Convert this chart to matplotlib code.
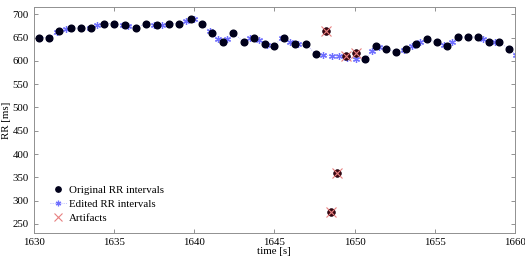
import matplotlib
matplotlib.use("Agg")
import matplotlib.pyplot as plt

# original RR intervals (beat time [s], RR [ms])
orig_t = [1630.34, 1630.97, 1631.60, 1632.30, 1632.95, 1633.60, 1634.36, 1635.03,
          1635.70, 1636.39, 1637.03, 1637.72, 1638.41, 1639.07, 1639.80, 1640.47,
          1641.14, 1641.78, 1642.45, 1643.10, 1643.73, 1644.40, 1644.99, 1645.61,
          1646.28, 1646.95, 1647.57, 1648.22, 1648.55, 1648.93, 1649.47, 1650.07,
          1650.68, 1651.32, 1651.97, 1652.57, 1653.18, 1653.84, 1654.51, 1655.11,
          1655.74, 1656.45, 1657.07, 1657.70, 1658.36, 1658.99, 1659.61]
orig_rr = [650, 650, 664, 670, 670, 670, 680, 680,
           676, 671, 680, 676, 680, 680, 690, 680,
           660, 640, 660, 640, 650, 636, 631, 650,
           636, 636, 615, 663, 276, 360, 611, 617,
           605, 631, 626, 619, 626, 636, 646, 640,
           631, 651, 651, 651, 640, 640, 626]

# edited RR intervals
edit_t = [1630.34, 1630.97, 1631.48, 1631.99, 1632.30, 1632.95, 1633.49, 1633.95,
          1634.36, 1635.03, 1635.57, 1635.89, 1636.39, 1637.03, 1637.53, 1637.99,
          1638.41, 1639.07, 1639.49, 1639.99, 1640.47, 1640.98, 1641.48, 1642.07,
          1642.45, 1643.10, 1643.49, 1644.05, 1644.57, 1644.99, 1645.45, 1645.98,
          1646.45, 1646.95, 1647.57, 1648.03, 1648.57, 1649.03, 1649.55, 1650.07,
          1650.68, 1651.07, 1651.55, 1651.97, 1652.57, 1653.07, 1653.57, 1654.05,
          1654.51, 1655.11, 1655.57, 1656.05, 1656.45, 1657.07, 1657.70, 1658.01,
          1658.36, 1658.74, 1658.99, 1659.61, 1660.09]
edit_rr = [650, 650, 662, 668, 670, 670, 670, 676,
           680, 680, 676, 675, 671, 680, 676, 676,
           680, 680, 686, 689, 680, 663, 646, 646,
           660, 640, 648, 645, 633, 631, 650, 641,
           636, 636, 615, 612, 611, 610, 606, 605,
           605, 621, 630, 626, 619, 624, 631, 640,
           646, 640, 635, 640, 651, 651, 651, 646,
           640, 640, 640, 626, 613]

# artifacts
art_t = [1648.22, 1648.55, 1648.93, 1649.47, 1650.07]
art_rr = [663, 276, 360, 611, 617]

plt.rcParams['font.family'] = ['Liberation Serif', 'DejaVu Serif']

fig = plt.figure(figsize=(5.25, 2.59), dpi=100)
ax = fig.add_axes([0.064, 0.101, 0.917, 0.872])

ax.plot(orig_t, orig_rr, linestyle='none', marker='o', markersize=4.8,
        color='#00001a', label='Original RR intervals', zorder=3)
ax.plot(edit_t, edit_rr, linestyle=':', linewidth=0.6, color='#a8a8ff',
        marker=(6, 2, 0), markersize=5, markeredgewidth=0.9,
        markeredgecolor='#7070ff', label='Edited RR intervals', zorder=2)
ax.plot(art_t, art_rr, linestyle='none', marker='o', markersize=4.8,
        color='#3a0810', zorder=4)
ax.plot(art_t, art_rr, linestyle='none', marker='x', markersize=7,
        markeredgewidth=0.8, color='#e88080', label='Artifacts', zorder=5)

ax.set_xlim(1630, 1660)
ax.set_ylim(231, 715.5)
ax.set_xticks(range(1630, 1661, 5))
ax.set_yticks(range(250, 701, 50))
ax.tick_params(direction='in', top=True, right=True, length=3,
               labelsize=7.8, color='#808080', width=0.6)
for s in ax.spines.values():
    s.set_color('#909090')
    s.set_linewidth(0.7)

ax.set_xlabel('time [s]', fontsize=7.8, labelpad=0)
ax.set_ylabel('RR [ms]', fontsize=7.8, labelpad=1)

ax.legend(loc='upper left', bbox_to_anchor=(0.022, 0.235), frameon=False,
          fontsize=7.8, borderpad=0, handlelength=1.6, handletextpad=0.2,
          labelspacing=0.42, markerscale=0.8)

fig.savefig('out.png', dpi=100)
